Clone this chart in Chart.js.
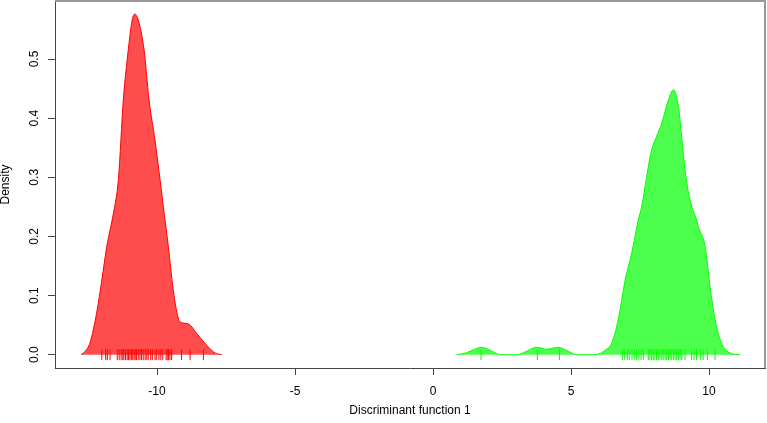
<!DOCTYPE html>
<html>
<head>
<meta charset="utf-8">
<script src="https://cdn.jsdelivr.net/npm/chart.js@4/dist/chart.umd.min.js"></script>
<style>
  html, body { margin: 0; padding: 0; background: #fff; }
  #wrap { width: 767px; height: 423px; }
</style>
</head>
<body>
<div id="wrap"><canvas id="myChart" width="767" height="423"></canvas></div>
<script>
// density curve of group 1 (red)
var redX = [-12.75,-12.60,-12.43,-12.19,-12.00,-11.82,-11.70,-11.58,-11.40,-11.22,-11.04,-10.90,-10.80,-10.68,-10.47,-10.29,-10.08,-9.89,-9.77,-9.59,-9.41,-9.23,-9.10,-8.95,-8.80,-8.56,-8.20,-7.90,-7.65]
var redY = [0,0.006,0.020,0.070,0.126,0.183,0.211,0.239,0.296,0.431,0.516,0.566,0.576,0.566,0.516,0.431,0.365,0.296,0.250,0.183,0.109,0.062,0.054,0.053,0.050,0.036,0.016,0.003,0]

// density curve of group 2 (green)
var greenX = [0.86,1.20,1.50,1.74,2.00,2.25,2.45,3.05,3.35,3.76,4.12,4.54,4.85,5.21,5.69,6.05,6.25,6.47,6.71,6.96,7.20,7.44,7.56,7.74,7.92,8.10,8.29,8.53,8.71,8.89,9.01,9.13,9.31,9.55,9.61,9.86,10.04,10.22,10.46,10.76,11.12]
var greenY = [0,0.003,0.009,0.0125,0.009,0.003,0,0,0.005,0.0125,0.0093,0.0125,0.007,0,0,0.002,0.008,0.019,0.059,0.126,0.172,0.228,0.250,0.301,0.346,0.369,0.392,0.431,0.448,0.420,0.369,0.313,0.262,0.228,0.217,0.183,0.115,0.059,0.019,0.003,0]

// individual scores (rug marks)
var redRug = [-12.00,-11.86,-11.80,-11.70,-11.44,-11.37,-11.30,-11.24,-11.20,-11.14,-11.08,-11.03,-10.98,-10.93,-10.88,-10.83,-10.79,-10.74,-10.68,-10.62,-10.56,-10.50,-10.43,-10.37,-10.32,-10.23,-10.17,-10.07,-10.01,-9.93,-9.86,-9.79,-9.67,-9.63,-9.58,-9.53,-9.47,-9.11,-8.80,-8.32]
var greenRug = [1.74,3.78,4.58,6.86,6.93,7.04,7.11,7.21,7.29,7.38,7.46,7.54,7.62,7.80,7.86,7.92,7.98,8.04,8.10,8.16,8.22,8.29,8.34,8.41,8.47,8.53,8.59,8.65,8.71,8.77,8.83,8.89,8.95,9.01,9.13,9.37,9.46,9.55,9.70,9.79,9.94,10.22]

var xTicks = [-10,-5,0,5,10]
var yTicks = [0,0.1,0.2,0.3,0.4,0.5]
var xTitle = "Discriminant function 1"
var yTitle = "Density"

var toPoints = function(xs, ys){
  return xs.map(function(v, i){ return {x: v, y: ys[i]} })
}
var rugPoints = function(xs){
  return xs.map(function(v){ return {x: v, y: 0} })
}

var fontFamily = "'Liberation Sans', Arial, Helvetica, sans-serif"

// grey top/right frame + rotated y tick labels
var framePlugin = {
  id: 'frame',
  afterDraw: function(chart){
    var c = chart.ctx
    var a = chart.chartArea
    c.save()
    c.strokeStyle = '#999999'
    c.lineWidth = 2
    c.beginPath()
    c.moveTo(a.left, a.top)
    c.lineTo(a.right, a.top)
    c.lineTo(a.right, a.bottom)
    c.stroke()
    var ys = chart.scales.y
    c.fillStyle = '#000'
    c.font = '12px ' + fontFamily
    c.textAlign = 'center'
    c.textBaseline = 'middle'
    ys.ticks.forEach(function(t){
      var py = ys.getPixelForValue(t.value)
      c.save()
      c.translate(35, py)
      c.rotate(-Math.PI / 2)
      c.fillText(t.value.toFixed(1), 0, 0)
      c.restore()
    })
    c.restore()
  }
}

var ctx = document.getElementById("myChart")
var chart = new Chart(ctx, {
  type: 'scatter',
  data: {
    datasets: [{
      type: 'line',
      data: toPoints(redX, redY),
      borderColor: 'rgb(255,0,0)',
      backgroundColor: 'rgba(255,0,0,0.7)',
      borderWidth: 1,
      pointRadius: 0,
      fill: 'origin',
      cubicInterpolationMode: 'monotone'
    },
    {
      type: 'line',
      data: toPoints(greenX, greenY),
      borderColor: 'rgb(0,255,0)',
      backgroundColor: 'rgba(0,255,0,0.7)',
      borderWidth: 1,
      pointRadius: 0,
      fill: 'origin',
      cubicInterpolationMode: 'monotone'
    },
    {
      data: rugPoints(redRug),
      pointStyle: 'line',
      rotation: 90,
      radius: 5.5,
      borderColor: 'rgb(255,0,0)',
      borderWidth: 1
    },
    {
      data: rugPoints(greenRug),
      pointStyle: 'line',
      rotation: 90,
      radius: 5.5,
      borderColor: 'rgb(0,255,0)',
      borderWidth: 1
    }]
  },
  options: {
    responsive: false,
    animation: false,
    events: [],
    layout: { autoPadding: false, padding: { top: 1, right: 2, left: 0, bottom: 0 } },
    plugins: { legend: { display: false }, tooltip: { enabled: false } },
    scales: {
      x: {
        type: 'linear',
        min: -13.696,
        max: 12.029,
        afterBuildTicks: function(scale){
          scale.ticks = xTicks.map(function(v){ return {value: v} })
        },
        afterFit: function(scale){ scale.height = 55 },
        grid: { drawOnChartArea: false, tickLength: 7, tickColor: '#444' },
        border: { display: true, color: '#444', width: 1 },
        ticks: { color: '#000', padding: 9, font: { size: 12, family: fontFamily }, maxRotation: 0,
          callback: function(v){ return String(v) } },
        title: { display: true, text: xTitle, color: '#000', padding: { top: 0, bottom: 6 },
          font: { size: 12, family: fontFamily, lineHeight: 1 } }
      },
      y: {
        min: -0.02249,
        max: 0.5981,
        afterBuildTicks: function(scale){
          scale.ticks = yTicks.map(function(v){ return {value: v} })
        },
        afterFit: function(scale){ scale.width = 55 },
        grid: { drawOnChartArea: false, tickLength: 7, tickColor: '#444' },
        border: { display: true, color: '#444', width: 1 },
        ticks: { display: false },
        title: { display: true, text: yTitle, color: '#000', padding: { top: 0, bottom: 0 },
          font: { size: 12, family: fontFamily, lineHeight: 1 } }
      }
    }
  },
  plugins: [framePlugin]
})
</script>
</body>
</html>
